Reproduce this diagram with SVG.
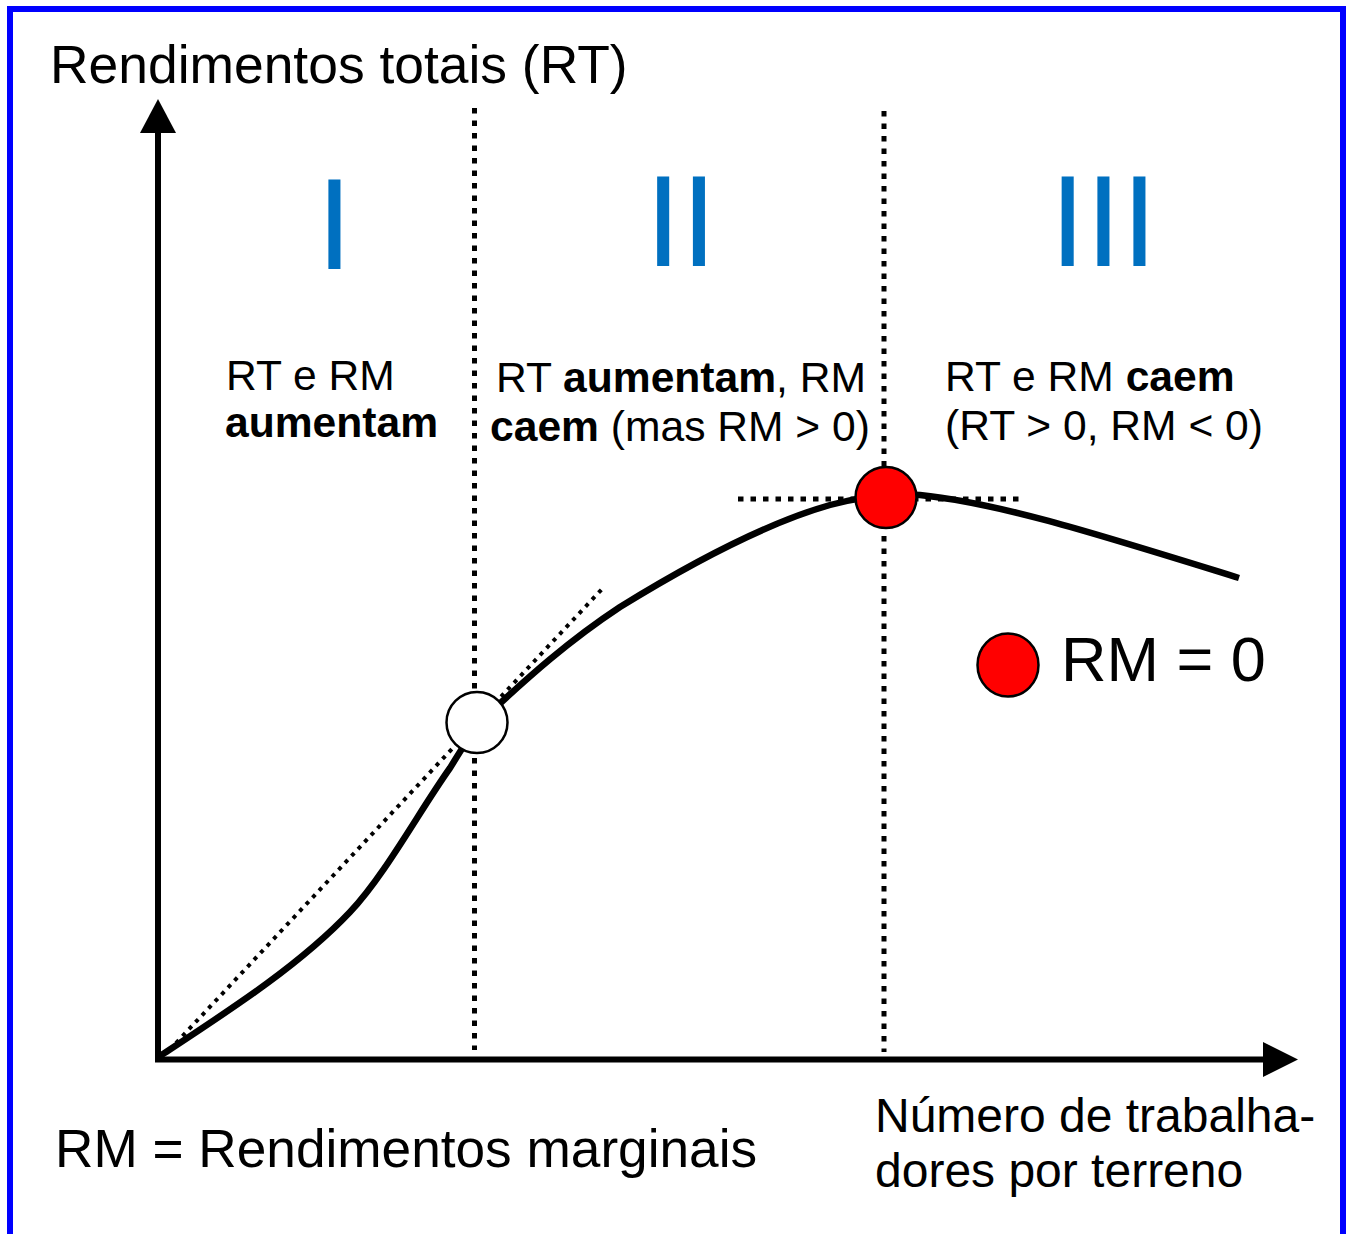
<svg xmlns="http://www.w3.org/2000/svg" width="1349" height="1234" viewBox="0 0 1349 1234">
  <style>
    .t { font-family: "Liberation Sans", Arial, sans-serif; fill: #000; }
    .b { font-weight: bold; }
    .lbl { font-size: 42.6px; }
    .roman { font-family: "Liberation Sans", Arial, sans-serif; font-size: 129px; fill: #0070C0; text-anchor: middle; }
    .dot { stroke: #000; stroke-width: 5; stroke-dasharray: 5.5 7; fill: none; }
    .tan { stroke: #000; stroke-width: 4; stroke-dasharray: 4 5.5; fill: none; }
    .axis { stroke: #000; stroke-width: 6; fill: none; }
  </style>
  <rect x="0" y="0" width="1349" height="1234" fill="#fff"/>
  <rect id="frame" x="10" y="9" width="1333" height="1240" fill="none" stroke="#0000FF" stroke-width="6"/>

  <g id="connectors">
    <line class="dot" x1="474.5" y1="108" x2="474.5" y2="1050"/>
    <line class="dot" x1="884" y1="111" x2="884" y2="1052"/>
    <line class="dot" x1="738" y1="499" x2="1023" y2="499"/>
    <line class="tan" x1="176" y1="1043" x2="603" y2="588"/>
    <path id="curve" d="M160,1056 C230,1010 300,965 350,912 C385,875 420,810 450,768 C460,752 470,735 480,722 C530,675 570,640 620,607 C680,570 760,525 830,505 C860,497 890,493 920,495 C1000,503 1100,535 1239,578" fill="none" stroke="#000" stroke-width="6.5"/>
  </g>

  <g id="y-axis">
    <line class="axis" x1="158" y1="1062" x2="158" y2="128"/>
    <polygon points="158,99 140,133 176,133" fill="#000"/>
  </g>
  <g id="x-axis">
    <line class="axis" x1="155" y1="1059.5" x2="1266" y2="1059.5"/>
    <polygon points="1298,1059.5 1263,1042 1263,1077" fill="#000"/>
  </g>

  <g id="point-inflection">
    <circle cx="477" cy="722.5" r="30.5" fill="#fff" stroke="#000" stroke-width="2.5"/>
  </g>
  <g id="point-max">
    <circle cx="886" cy="497.5" r="30.5" fill="#FF0000" stroke="#000" stroke-width="2.5"/>
  </g>

  <g id="title">
    <text class="t" x="50" y="83" font-size="53.4">Rendimentos totais (RT)</text>
  </g>

  <g id="stage-I">
    <text class="roman" x="334.5" y="269">I</text>
    <text class="t lbl" x="226" y="390">RT e RM</text>
    <text class="t b lbl" x="225" y="437">aumentam</text>
  </g>
  <g id="stage-II">
    <text class="roman" x="681" y="266">II</text>
    <text class="t lbl" x="496" y="392">RT <tspan class="b">aumentam</tspan>, RM</text>
    <text class="t lbl" x="490" y="441"><tspan class="b">caem</tspan> (mas RM &gt; 0)</text>
  </g>
  <g id="stage-III">
    <text class="roman" x="1103.5" y="266">III</text>
    <text class="t lbl" x="945" y="391">RT e RM <tspan class="b">caem</tspan></text>
    <text class="t lbl" x="945" y="440">(RT &gt; 0, RM &lt; 0)</text>
  </g>

  <g id="legend">
    <ellipse cx="1008" cy="665" rx="30.5" ry="31.5" fill="#FF0000" stroke="#000" stroke-width="2.5"/>
    <text class="t" x="1061" y="681" font-size="63">RM = 0</text>
  </g>

  <g id="note">
    <text class="t" x="55" y="1167" font-size="53.2">RM = Rendimentos marginais</text>
  </g>
  <g id="x-label">
    <text class="t" x="875" y="1132" font-size="48">Número de trabalha-</text>
    <text class="t" x="875" y="1187" font-size="48">dores por terreno</text>
  </g>
</svg>
